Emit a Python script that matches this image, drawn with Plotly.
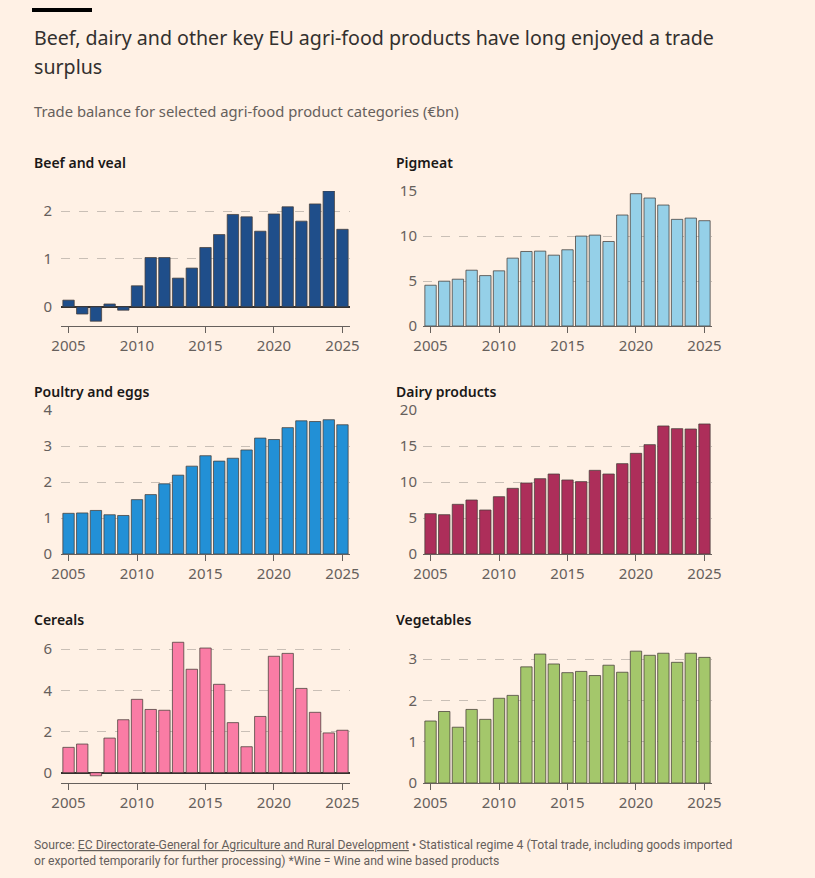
import plotly.graph_objects as go

# data (EUR bn trade balance)
years = list(range(2005, 2026))

beef = [0.14, -0.15, -0.30, 0.06, -0.07, 0.44, 1.03, 1.03, 0.60, 0.81, 1.24,
        1.51, 1.93, 1.88, 1.58, 1.94, 2.09, 1.79, 2.15, 2.42, 1.62]
pigmeat = [4.53, 4.98, 5.20, 6.20, 5.60, 6.13, 7.54, 8.28, 8.32, 7.87, 8.47,
           9.99, 10.10, 9.39, 12.33, 14.70, 14.22, 13.44, 11.85, 11.99, 11.70]
poultry = [1.13, 1.14, 1.21, 1.09, 1.07, 1.51, 1.65, 1.95, 2.19, 2.44, 2.73,
           2.58, 2.66, 2.89, 3.22, 3.18, 3.51, 3.70, 3.68, 3.73, 3.59]
dairy = [5.60, 5.46, 6.90, 7.50, 6.11, 7.96, 9.12, 9.86, 10.46, 11.11, 10.28,
         10.05, 11.62, 11.11, 12.55, 13.98, 15.19, 17.78, 17.41, 17.36, 18.06]
cereals = [1.23, 1.39, -0.15, 1.68, 2.57, 3.56, 3.07, 3.03, 6.33, 5.02, 6.05,
           4.29, 2.43, 1.26, 2.73, 5.65, 5.79, 4.09, 2.93, 1.93, 2.06]
vegetables = [1.50, 1.73, 1.35, 1.78, 1.54, 2.05, 2.12, 2.81, 3.12, 2.88, 2.67,
              2.70, 2.60, 2.85, 2.68, 3.19, 3.09, 3.14, 2.92, 3.14, 3.04]

panel_names = ["Beef and veal", "Pigmeat", "Poultry and eggs", "Dairy products",
               "Cereals", "Vegetables"]
panel_values = [beef, pigmeat, poultry, dairy, cereals, vegetables]
panel_ticks = [[0, 1, 2], [0, 5, 10, 15], [0, 1, 2, 3, 4], [0, 5, 10, 15, 20],
               [0, 2, 4, 6], [0, 1, 2, 3]]
x_ticks = [2005, 2010, 2015, 2020, 2025]

# styling
colors = ["#1F4E8A", "#95D0E8", "#2290D6", "#AD2E5A", "#FA7CA5", "#A4C76B"]
y_ranges = [[-0.4, 2.42], [0, 15], [0, 4], [0, 20], [-0.5, 6.44], [0, 3.46]]

W, H = 815, 878
BG = "#FFF1E5"
TXT = "#33302E"
SUB = "#66605C"
FONT = "Noto Sans, sans-serif"

# panel boxes in pixels (left, right, top, bottom)
cols = [(61, 350), (423, 712)]
rows = [(191, 326), (410, 554), (640, 783)]
title_y = [162, 391, 619]

fig = go.Figure()

for i, (name, vals) in enumerate(zip(panel_names, panel_values)):
    r, c = divmod(i, 2)
    n = i + 1
    xa = "x" if n == 1 else f"x{n}"
    ya = "y" if n == 1 else f"y{n}"
    fig.add_trace(go.Bar(
        x=years, y=vals, xaxis=xa, yaxis=ya,
        marker=dict(color=colors[i], line=dict(color="rgba(70,62,56,0.75)", width=1)),
        showlegend=False, hoverinfo="x+y",
    ))
    left, right = cols[c]
    top, bottom = rows[r]
    xkey = "xaxis" if n == 1 else f"xaxis{n}"
    ykey = "yaxis" if n == 1 else f"yaxis{n}"
    has_neg = y_ranges[i][0] < 0
    fig.update_layout(**{
        xkey: dict(
            domain=[left / W, right / W], anchor=ya, automargin=False,
            range=[2004.45, 2025.55], tickvals=x_ticks,
            showline=True, linecolor=SUB, linewidth=1,
            ticks="outside", ticklen=6, tickcolor=SUB,
            showgrid=False, zeroline=False,
            tickfont=dict(family=FONT, size=15, color=SUB),
            fixedrange=True,
        ),
        ykey: dict(
            domain=[1 - bottom / H, 1 - top / H], anchor=xa, automargin=False,
            range=y_ranges[i], tickvals=panel_ticks[i],
            showgrid=True, gridcolor="#C9BFB6", griddash="dash", gridwidth=1,
            zeroline=has_neg, zerolinecolor=TXT, zerolinewidth=1.5,
            showline=False, ticks="",
            tickfont=dict(family=FONT, size=15, color=SUB),
            ticklabelstandoff=8 if c == 0 else 5,
            fixedrange=True,
        ),
    })
    fig.add_annotation(
        text=name, xref="paper", yref="paper",
        x=(32 if c == 0 else 394) / W, y=1 - title_y[r] / H,
        xanchor="left", yanchor="middle", showarrow=False,
        font=dict(family=FONT, size=14, color="#1A1817", weight=600),
    )

fig.add_shape(type="rect", xref="paper", yref="paper",
              x0=32 / W, x1=92 / W, y0=1 - 12 / H, y1=1 - 8 / H,
              fillcolor="#000000", line=dict(width=0))

# headline in two lines, spaced like the original
fig.add_annotation(
    text="Beef, dairy and other key EU agri-food products have long enjoyed a trade",
    xref="paper", yref="paper", x=32 / W, y=1 - 38 / H,
    xanchor="left", yanchor="middle", showarrow=False,
    font=dict(family=FONT, size=19.6, color=TXT),
)
fig.add_annotation(
    text="surplus",
    xref="paper", yref="paper", x=32 / W, y=1 - 66 / H,
    xanchor="left", yanchor="middle", showarrow=False,
    font=dict(family=FONT, size=19.6, color=TXT),
)
fig.add_annotation(
    text="Trade balance for selected agri-food product categories (€bn)",
    xref="paper", yref="paper", x=32 / W, y=1 - 111 / H,
    xanchor="left", yanchor="middle", showarrow=False,
    font=dict(family=FONT, size=14.8, color=SUB),
)
fig.add_annotation(
    text=("Source: <u>EC Directorate-General for Agriculture and Rural Development</u> • "
          "Statistical regime 4 (Total trade, including goods imported<br>"
          "or exported temporarily for further processing) *Wine = Wine and wine based products"),
    xref="paper", yref="paper", x=32 / W, y=1 - 836 / H,
    xanchor="left", yanchor="top", align="left", showarrow=False,
    font=dict(family="Liberation Sans Narrow, Roboto, sans-serif", size=12.2, color=SUB),
)

fig.update_layout(
    width=W, height=H,
    margin=dict(l=0, r=0, t=0, b=0, autoexpand=False),
    paper_bgcolor=BG, plot_bgcolor=BG,
    bargap=0.17,
    font=dict(family=FONT, color=SUB),
)

fig.write_html(
    "out.html",
    config={"displayModeBar": False},
    post_script="document.body.style.margin='0';document.body.style.background='#FFF1E5';",
)
